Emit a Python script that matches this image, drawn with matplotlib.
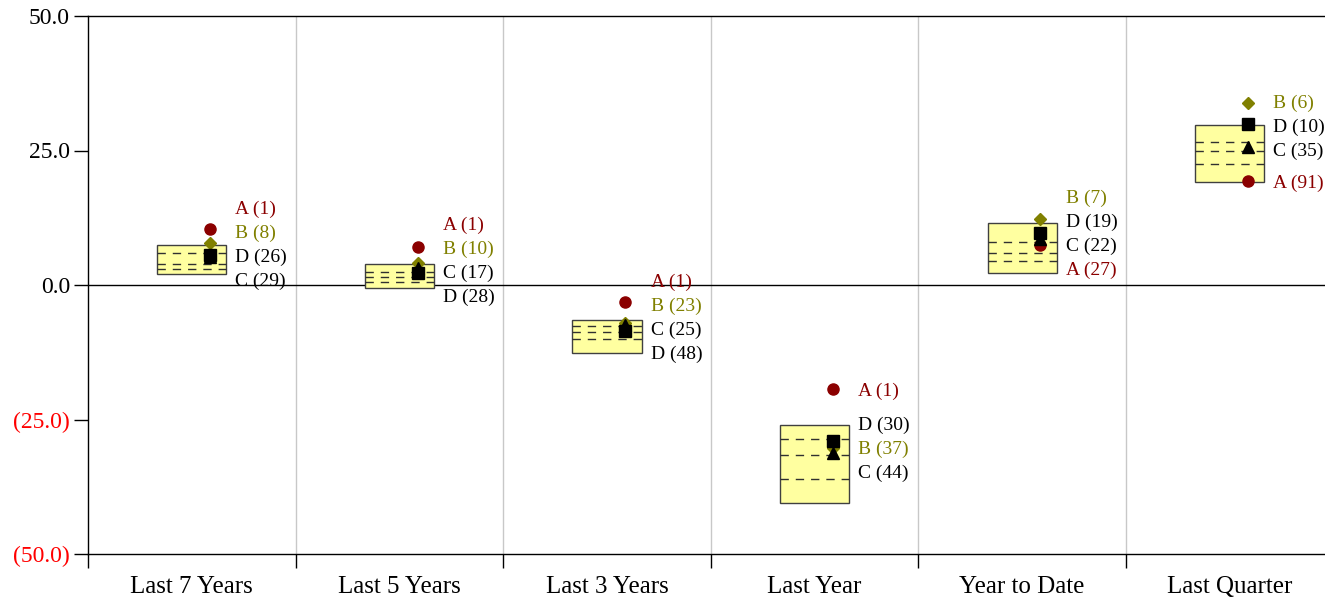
import matplotlib
matplotlib.use("Agg")
import matplotlib.pyplot as plt
import numpy as np

# ── Datos ─────────────────────────────────────────────────────
categorias = ["Last 7 Years", "Last 5 Years", "Last 3 Years",
              "Last Year", "Year to Date", "Last Quarter"]

# percentiles del universo (10, 25, 50, 75, 90)
p10 = [7.4, 3.9, -6.5, -26.0, 11.6, 29.7]
p25 = [5.9, 2.4, -7.6, -28.7, 8.0, 26.6]
p50 = [3.9, 1.4, -8.8, -31.6, 6.0, 25.0]
p75 = [2.9, 0.6, -10.1, -36.1, 4.5, 22.4]
p90 = [2.1, -0.5, -12.6, -40.5, 2.2, 19.2]

# rendimiento de cada fondo y su ranking
fondo_a = [10.4, 7.1, -3.1, -19.3, 7.4, 19.3]
fondo_b = [7.8, 4.0, -7.1, -30.3, 12.3, 33.9]
fondo_c = [5.2, 3.1, -7.5, -31.2, 8.6, 25.6]
fondo_d = [5.6, 2.3, -8.6, -29.0, 9.6, 29.9]
rank_a = [1, 1, 1, 1, 27, 91]
rank_b = [8, 10, 23, 37, 7, 6]
rank_c = [29, 17, 25, 44, 22, 35]
rank_d = [26, 28, 48, 30, 19, 10]

y_ticks = [50, 25, 0, -25, -50]

ROJO = "#8B0000"
OLIVA = "#808000"
AMARILLO = "#FFFFA0"

plt.rcParams['font.family'] = ['Liberation Serif', 'DejaVu Serif']

fondos = [
    ("A", fondo_a, rank_a, 'o', ROJO, 8),
    ("B", fondo_b, rank_b, 'D', OLIVA, 6),
    ("C", fondo_c, rank_c, '^', 'black', 8.5),
    ("D", fondo_d, rank_d, 's', 'black', 8.5),
]


def repartir(vals, gap):
    """Separa etiquetas que se enciman: agrupa y centra en el rango del grupo."""
    orden = sorted(range(len(vals)), key=lambda i: -vals[i])
    grupos = [[i] for i in orden]

    def colocar(g):
        c = (vals[g[0]] + vals[g[-1]]) / 2
        n = len(g)
        return [c + gap * ((n - 1) / 2 - k) for k in range(n)]

    cambio = True
    while cambio:
        cambio = False
        for j in range(len(grupos) - 1):
            if colocar(grupos[j])[-1] - colocar(grupos[j + 1])[0] < gap:
                grupos[j] = grupos[j] + grupos[j + 1]
                del grupos[j + 1]
                cambio = True
                break
    pos = {}
    for g in grupos:
        for i, y in zip(g, colocar(g)):
            pos[i] = y
    return [pos[i] for i in range(len(vals))]


fig = plt.figure(figsize=(13.25, 6.01), dpi=100)
ax = fig.add_axes([88 / 1325, 47 / 601, 1245.5 / 1325, 538 / 601])

n = len(categorias)
x = np.arange(n)
ax.set_xlim(-0.5, n - 0.5)
ax.set_ylim(-50, 50)

# rejilla vertical entre categorías
for b in np.arange(0.5, n - 0.5, 1):
    ax.axvline(b, color='#C8C8C8', lw=1, zorder=0)
ax.axhline(0, color='black', lw=1, zorder=1)

ancho = 1 / 3
for i in range(n):
    ax.bar(x[i], p10[i] - p90[i], bottom=p90[i], width=ancho,
           color=AMARILLO, edgecolor='#404040', lw=1, zorder=2)
    for q in (p25[i], p50[i], p75[i]):
        ax.plot([x[i] - ancho / 2, x[i] + ancho / 2], [q, q],
                color='#303030', lw=1, dashes=(6, 5), zorder=3)

for _, vals, _, mk, col, ms in fondos:
    ax.plot(x + 0.088, vals, linestyle='none', marker=mk, color=col,
            markersize=ms, zorder=4)

gap = 24 * 100 / 538
for i in range(n):
    vals = [f[1][i] for f in fondos]
    ys = repartir(vals, gap)
    for (nombre, _, ranks, _, col, _), y in zip(fondos, ys):
        ax.text(x[i] + 0.21, y, f"{nombre} ({ranks[i]})", color=col,
                fontsize=14, ha='left', va='center_baseline', zorder=5,
                clip_on=False)

# ejes
ax.spines['right'].set_visible(False)
for s in ('left', 'top', 'bottom'):
    ax.spines[s].set_linewidth(1)

ax.set_yticks(y_ticks)
ax.set_yticklabels([f"{v:.1f}" if v >= 0 else f"({-v:.1f})" for v in y_ticks],
                   fontsize=17)
for lbl, v in zip(ax.get_yticklabels(), y_ticks):
    lbl.set_color('red' if v < 0 else 'black')
ax.tick_params(axis='y', length=10, width=1, pad=3)

ax.set_xticks(np.arange(-0.5, n, 1))
ax.set_xticklabels([])
ax.tick_params(axis='x', which='major', length=10, width=1)
ax.set_xticks(x, minor=True)
ax.set_xticklabels(categorias, minor=True, fontsize=18)
ax.tick_params(axis='x', which='minor', length=0, pad=16)

fig.savefig("out.png", dpi=100)
